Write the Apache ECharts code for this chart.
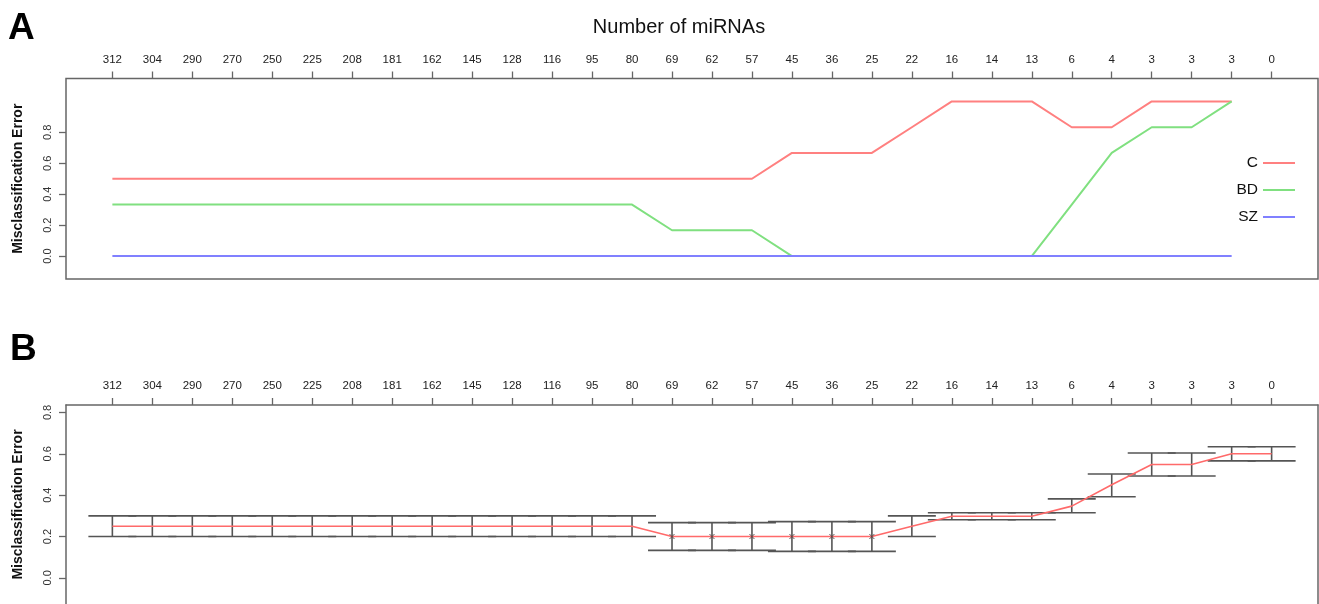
<!DOCTYPE html>
<html>
<head>
<meta charset="utf-8">
<script src="https://cdn.jsdelivr.net/npm/echarts@6/dist/echarts.min.js"></script>
<style>
  html, body { margin: 0; padding: 0; background: #fff; }
  #chart { width: 1319px; height: 604px; }
</style>
</head>
<body>
<div id="chart"></div>
<script>
// Number of miRNAs kept at each elimination step (top axis labels)
const miRNACounts = ['312', '304', '290', '270', '250', '225', '208', '181', '162', '145',
  '128', '116', '95', '80', '69', '62', '57', '45', '36', '25',
  '22', '16', '14', '13', '6', '4', '3', '3', '3', '0'];

// Panel A: per-class misclassification error
const errorC = [0.5, 0.5, 0.5, 0.5, 0.5, 0.5, 0.5, 0.5, 0.5, 0.5,
  0.5, 0.5, 0.5, 0.5, 0.5, 0.5, 0.5, 0.667, 0.667, 0.667,
  0.833, 1.0, 1.0, 1.0, 0.833, 0.833, 1.0, 1.0, 1.0, null];
const errorBD = [0.333, 0.333, 0.333, 0.333, 0.333, 0.333, 0.333, 0.333, 0.333, 0.333,
  0.333, 0.333, 0.333, 0.333, 0.167, 0.167, 0.167, 0.0, 0.0, 0.0,
  0.0, 0.0, 0.0, 0.0, 0.333, 0.667, 0.833, 0.833, 1.0, null];
const errorSZ = [0, 0, 0, 0, 0, 0, 0, 0, 0, 0,
  0, 0, 0, 0, 0, 0, 0, 0, 0, 0,
  0, 0, 0, 0, 0, 0, 0, 0, 0, null];

// Panel B: overall error, mean with lower / upper bounds
const meanB = [0.25, 0.25, 0.25, 0.25, 0.25, 0.25, 0.25, 0.25, 0.25, 0.25,
  0.25, 0.25, 0.25, 0.25, 0.2, 0.2, 0.2, 0.2, 0.2, 0.2,
  0.25, 0.298, 0.298, 0.298, 0.347, 0.45, 0.548, 0.548, 0.6, 0.6];
const upperB = [0.3, 0.3, 0.3, 0.3, 0.3, 0.3, 0.3, 0.3, 0.3, 0.3,
  0.3, 0.3, 0.3, 0.3, 0.267, 0.267, 0.267, 0.272, 0.272, 0.272,
  0.3, 0.315, 0.315, 0.315, 0.382, 0.502, 0.604, 0.604, 0.634, 0.634];
const lowerB = [0.2, 0.2, 0.2, 0.2, 0.2, 0.2, 0.2, 0.2, 0.2, 0.2,
  0.2, 0.2, 0.2, 0.2, 0.133, 0.133, 0.133, 0.128, 0.128, 0.128,
  0.2, 0.281, 0.281, 0.281, 0.315, 0.392, 0.493, 0.493, 0.566, 0.566];
// Points drawn with a cross marker
const crossB = [null, null, null, null, null, null, null, null, null, null,
  null, null, null, null, 0.2, 0.2, 0.2, 0.2, 0.2, 0.2,
  null, null, null, null, null, null, null, null, null, null];

const yTicksA = [0, 0.2, 0.4, 0.6, 0.8];
const yTicksB = [0, 0.2, 0.4, 0.6, 0.8];

const FONT = '"Liberation Sans", Arial, Helvetica, sans-serif';
const AXIS_COLOR = '#666';
const idx = miRNACounts.map((_, i) => i);
const pairs = arr => arr.map((v, i) => [i, v]).filter(p => p[1] !== null);
const boxLine = { show: true, onZero: false, lineStyle: { color: AXIS_COLOR, width: 1.5 } };

function xAxisFor(gridIndex, line) {
  return {
    type: 'value', gridIndex, position: 'top',
    min: -1.16, max: 30.16,
    axisLine: line ? boxLine : { show: false, onZero: false },
    splitLine: { show: false },
    axisTick: { show: true, customValues: idx, length: 7, lineStyle: { color: AXIS_COLOR, width: 1.3 } },
    axisLabel: {
      customValues: idx, margin: 13, color: '#222', fontFamily: FONT, fontSize: 11.5,
      formatter: v => miRNACounts[Math.round(v)]
    }
  };
}
function yAxisFor(gridIndex, min, max, ticks, line) {
  return {
    type: 'value', gridIndex, min, max, position: 'left',
    name: 'Misclassification Error', nameLocation: 'middle', nameGap: 41,
    nameTextStyle: { fontFamily: FONT, fontSize: 14, fontWeight: 'bold', color: '#111' },
    axisLine: line ? boxLine : { show: false, onZero: false },
    splitLine: { show: false },
    axisTick: { show: true, customValues: ticks, length: 7, lineStyle: { color: AXIS_COLOR, width: 1.3 } },
    axisLabel: {
      customValues: ticks, rotate: 90, margin: 13, color: '#333', fontFamily: FONT, fontSize: 11,
      formatter: v => v.toFixed(1)
    }
  };
}

const chart = echarts.init(document.getElementById('chart'), null, { renderer: 'canvas' });

chart.setOption({
  backgroundColor: '#fff',
  animation: false,
  grid: [
    { left: 66, top: 78.5, width: 1252, height: 200.5, show: true, borderColor: AXIS_COLOR, borderWidth: 1.5, containLabel: false },
    // lower panel runs off the bottom edge: frame drawn by its axis lines (top, left, right)
    { left: 66, top: 405, width: 1252, height: 199, show: false, containLabel: false }
  ],
  xAxis: [xAxisFor(0, false), xAxisFor(1, true)],
  yAxis: [
    yAxisFor(0, -0.148, 1.148, yTicksA, false),
    yAxisFor(1, -0.1263, 0.836, yTicksB, true),
    { type: 'value', gridIndex: 1, position: 'right', min: -0.1263, max: 0.836,
      axisLine: boxLine, axisTick: { show: false }, axisLabel: { show: false }, splitLine: { show: false } }
  ],
  legend: {
    show: true,
    data: ['C', 'BD', 'SZ'],
    orient: 'vertical', align: 'right',
    right: 19, top: 150,
    itemWidth: 32, itemHeight: 2, itemGap: 11,
    icon: 'rect',
    textStyle: { fontFamily: FONT, fontSize: 15.5, color: '#111' }
  },
  graphic: [
    { type: 'text', left: 8, top: 10, style: { text: 'A', font: 'bold 37px ' + FONT, fill: '#000' } },
    { type: 'text', left: 10, top: 331, style: { text: 'B', font: 'bold 37px ' + FONT, fill: '#000' } },
    { type: 'text', x: 679, y: 27, style: { text: 'Number of miRNAs', font: '20px ' + FONT, fill: '#111', align: 'center', verticalAlign: 'middle' } }
  ],
  series: [
    { name: 'C', type: 'line', xAxisIndex: 0, yAxisIndex: 0, data: pairs(errorC), symbol: 'none',
      lineStyle: { color: '#ff8080', width: 2 }, itemStyle: { color: '#ff8080' } },
    { name: 'BD', type: 'line', xAxisIndex: 0, yAxisIndex: 0, data: pairs(errorBD), symbol: 'none',
      lineStyle: { color: '#80e080', width: 2 }, itemStyle: { color: '#80e080' } },
    { name: 'SZ', type: 'line', xAxisIndex: 0, yAxisIndex: 0, data: pairs(errorSZ), symbol: 'none',
      lineStyle: { color: '#8080ff', width: 2 }, itemStyle: { color: '#8080ff' } },
    {
      name: 'range', type: 'custom', xAxisIndex: 1, yAxisIndex: 1,
      data: idx.map(i => [i, lowerB[i], upperB[i]]),
      renderItem: function (params, api) {
        const x = api.value(0);
        const lo = api.coord([x, api.value(1)]);
        const hi = api.coord([x, api.value(2)]);
        const half = api.size([0.6, 0])[0];
        const style = { stroke: '#555', lineWidth: 1.6 };
        return {
          type: 'group',
          children: [
            { type: 'line', shape: { x1: lo[0], y1: lo[1], x2: hi[0], y2: hi[1] }, style },
            { type: 'line', shape: { x1: lo[0] - half, y1: lo[1], x2: lo[0] + half, y2: lo[1] }, style },
            { type: 'line', shape: { x1: hi[0] - half, y1: hi[1], x2: hi[0] + half, y2: hi[1] }, style }
          ]
        };
      },
      z: 2, silent: true
    },
    { name: 'mean', type: 'line', xAxisIndex: 1, yAxisIndex: 1, data: pairs(meanB), symbol: 'none',
      lineStyle: { color: '#ff6a6a', width: 1.6 }, z: 3 },
    { name: 'cross', type: 'scatter', xAxisIndex: 1, yAxisIndex: 1, data: pairs(crossB),
      symbol: 'path://M0,0 L10,10 M10,0 L0,10', symbolSize: 5,
      itemStyle: { color: 'none', borderColor: '#333', borderWidth: 1 }, z: 4 }
  ]
});
</script>
</body>
</html>
